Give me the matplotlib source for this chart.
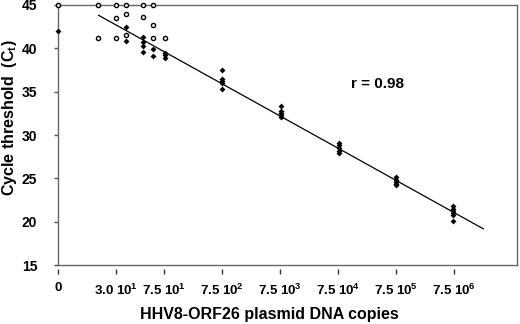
import numpy as np
import matplotlib
matplotlib.use('Agg')
import matplotlib.pyplot as plt

plt.rcParams['font.family'] = ['Liberation Sans', 'DejaVu Sans']
plt.rcParams['font.weight'] = 'bold'
plt.rcParams['mathtext.fontset'] = 'custom'
plt.rcParams['mathtext.rm'] = 'Liberation Sans:bold'
plt.rcParams['mathtext.bf'] = 'Liberation Sans:bold'
plt.rcParams['mathtext.it'] = 'Liberation Sans:bold'

# x positions are in "decade" units along the drawn axis (7.5 10^n at n + 0.875)
tick_pos = [0.05, 1.05, 1.875, 2.875, 3.875, 4.875, 5.875, 6.875]
tick_labels = ['0', '3.0 10$^1$', '7.5 10$^1$', '7.5 10$^2$',
               '7.5 10$^3$', '7.5 10$^4$', '7.5 10$^5$', '7.5 10$^6$']

# open symbols (not detected / low copy replicates)
open_x = [0.05, 0.74, 1.05, 1.22, 1.51, 1.69,
          1.05, 1.22, 1.51, 1.69,
          0.74, 1.05, 1.22, 1.69, 1.89]
open_ct = [45, 45, 45, 45, 45, 45,
           43.5, 44.0, 43.6, 42.7,
           41.2, 41.2, 41.5, 41.2, 41.2]

# filled symbols
fill_x = [0.05, 1.22, 1.22, 1.51, 1.51, 1.51, 1.51, 1.69, 1.69, 1.89, 1.89, 1.89,
          2.875, 2.875, 2.875, 2.875, 2.875,
          3.9, 3.9, 3.9, 3.9, 3.9,
          4.9, 4.9, 4.9, 4.9, 4.9,
          5.875, 5.875, 5.875, 5.875, 5.875,
          6.86, 6.86, 6.86, 6.86, 6.86, 6.86]
fill_ct = [42.0, 42.5, 40.9, 41.3, 40.7, 40.3, 39.6, 39.9, 39.1, 39.5, 39.2, 38.9,
           37.5, 36.5, 36.2, 36.0, 35.3,
           33.4, 32.8, 32.5, 32.3, 32.1,
           29.1, 28.8, 28.5, 28.2, 27.9,
           25.1, 24.8, 24.6, 24.4, 24.2,
           21.8, 21.5, 21.2, 21.0, 20.8, 20.1]

fit_slope = -3.716
fit_intercept = 46.6
fit_range = [0.75, 7.38]

fig = plt.figure(figsize=(5.2, 3.24), dpi=100)
ax = fig.add_axes([0.1115, 0.182, 0.8827, 0.8026])

fx = np.array(fit_range)
ax.plot(fx, fit_intercept + fit_slope * fx, color='black', lw=0.9)

ax.scatter(fill_x, fill_ct, s=9, marker='D', color='black', zorder=3, clip_on=False, linewidths=0)
ax.scatter(open_x, open_ct, s=9, marker='o', facecolor='white', edgecolor='black',
           linewidths=1.0, zorder=3, clip_on=False)

ax.text(5.55, 35.9, 'r = 0.98', fontsize=11, fontweight='bold', ha='center', va='center')

ax.set_xlim(0.05, 7.96)
ax.set_ylim(15, 45)
ax.set_yticks(range(15, 46, 5))
ax.set_xticks(tick_pos)
ax.set_xticklabels(tick_labels)
ax.xaxis.get_major_ticks()[0].tick1line.set_visible(False)

for s in ax.spines.values():
    s.set_color('#666666')
    s.set_linewidth(1.0)
ax.spines['bottom'].set_visible(False)
ax.spines['bottom'].set_position(('outward', 3))
ax.axhline(15, color='#666666', lw=1.0, clip_on=False)

ax.tick_params(axis='x', direction='out', length=3.5, width=1, color='#333333',
               labelsize=9.5, pad=6)
ax.tick_params(axis='y', direction='out', length=3, width=1, color='#555555',
               labelsize=10, pad=12)

ax.set_xlabel('HHV8-ORF26 plasmid DNA copies', fontsize=11.5, fontweight='bold')
ax.xaxis.set_label_coords(0.46, -0.16)
ax.set_ylabel('Cycle threshold  (C$_t$)', fontsize=11.5, fontweight='bold')
ax.yaxis.set_label_coords(-0.085, 0.565)

fig.savefig('out.png', dpi=100)
